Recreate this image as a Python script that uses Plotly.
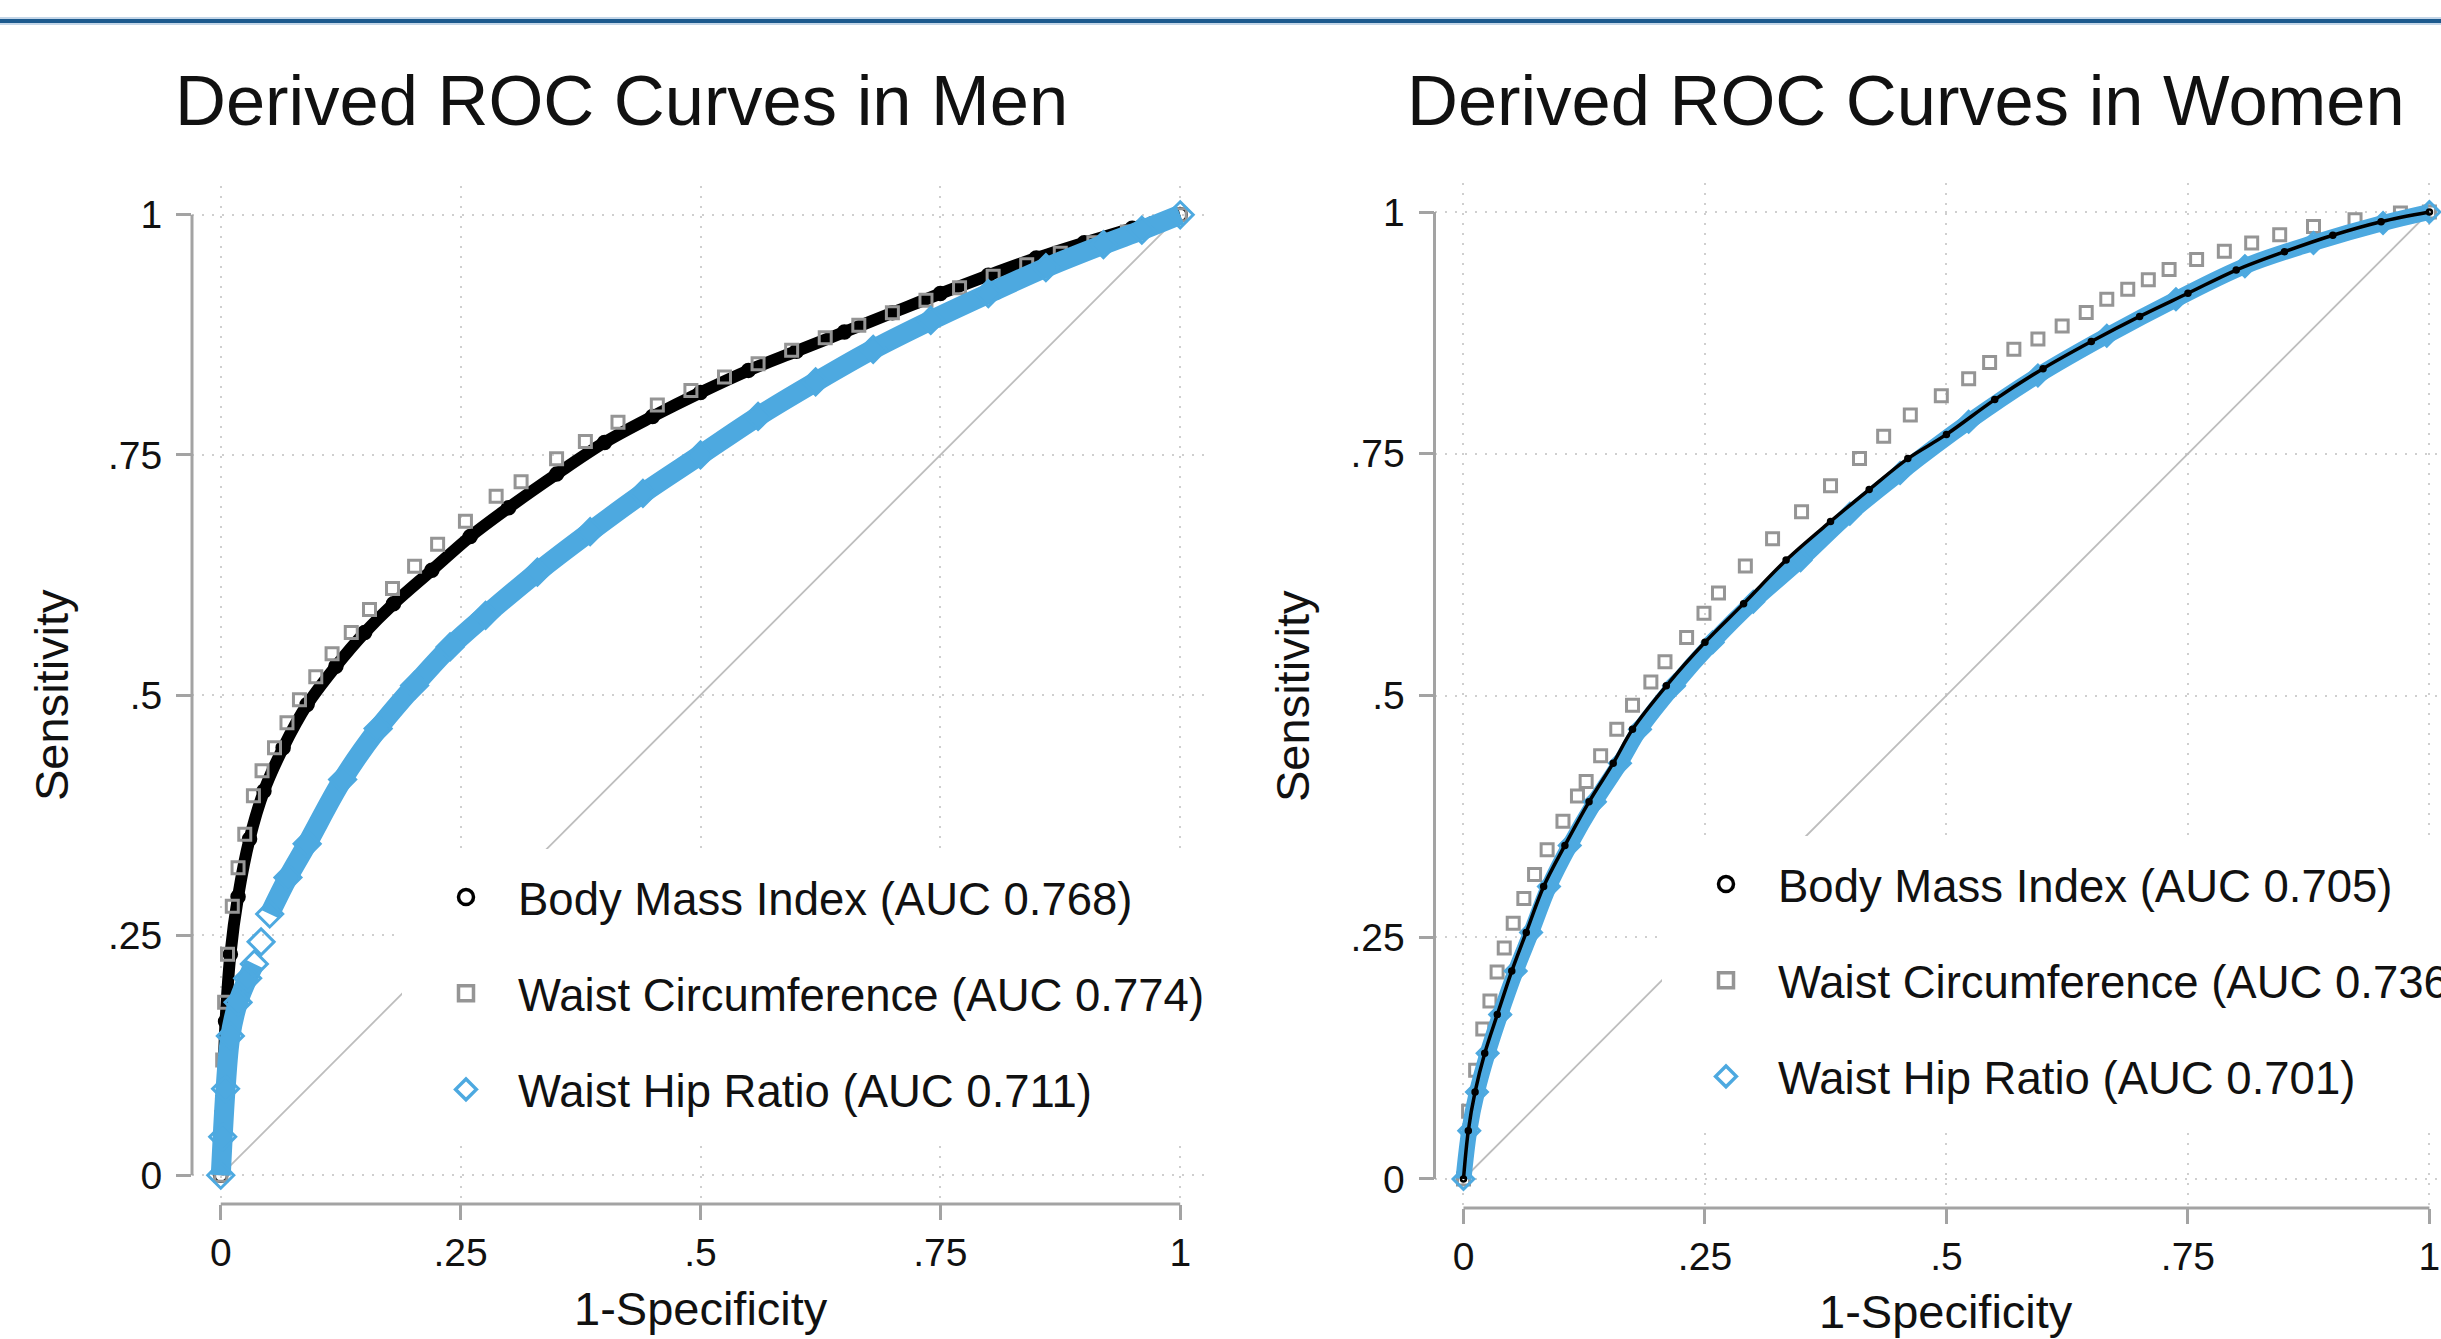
import plotly.graph_objects as go

FONT = "Liberation Sans, Arial, Helvetica, sans-serif"

# ---------------- data ----------------
tick_vals = [0, 0.25, 0.5, 0.75, 1]
tick_text = ["0", ".25", ".5", ".75", "1"]

diag_x = [0, 1]
diag_y = [0, 1]

panel_titles = ["Derived ROC Curves in Men", "Derived ROC Curves in Women"]
x_title = "1-Specificity"
y_title = "Sensitivity"

men_labels = ["Body Mass Index (AUC 0.768)",
              "Waist Circumference (AUC 0.774)",
              "Waist Hip Ratio (AUC 0.711)"]
women_labels = ["Body Mass Index (AUC 0.705)",
                "Waist Circumference (AUC 0.736)",
                "Waist Hip Ratio (AUC 0.701)"]

# Men
men_bmi_x = [0, 0.002, 0.005, 0.010, 0.018, 0.030, 0.045, 0.065, 0.090, 0.120, 0.150, 0.180,
             0.220, 0.260, 0.300, 0.350, 0.400, 0.450, 0.500, 0.550, 0.600, 0.650, 0.700,
             0.750, 0.800, 0.850, 0.900, 0.950, 1.0]
men_bmi_y = [0, 0.08, 0.16, 0.23, 0.29, 0.35, 0.40, 0.445, 0.49, 0.53, 0.565, 0.595,
             0.63, 0.665, 0.695, 0.73, 0.763, 0.79, 0.815, 0.838, 0.858, 0.878, 0.898,
             0.918, 0.937, 0.955, 0.971, 0.986, 1.0]

men_wc_x = [0, 0.001, 0.002, 0.004, 0.007, 0.012, 0.018, 0.025, 0.034, 0.043, 0.056, 0.069,
            0.082, 0.099, 0.116, 0.136, 0.155, 0.179, 0.202, 0.226, 0.255, 0.287, 0.313,
            0.350, 0.380, 0.414, 0.455, 0.490, 0.525, 0.560, 0.595, 0.630, 0.665, 0.700,
            0.735, 0.770, 0.805, 0.840, 0.875, 0.910, 0.945, 0.975, 1.0]
men_wc_y = [0, 0.06, 0.12, 0.18, 0.23, 0.28, 0.32, 0.355, 0.395, 0.421, 0.445, 0.471,
            0.495, 0.519, 0.543, 0.565, 0.589, 0.611, 0.634, 0.657, 0.681, 0.707, 0.722,
            0.746, 0.764, 0.784, 0.802, 0.817, 0.831, 0.845, 0.859, 0.872, 0.885, 0.898,
            0.911, 0.924, 0.936, 0.948, 0.960, 0.971, 0.982, 0.991, 1.0]

men_whr_x = [0, 0.002, 0.005, 0.010, 0.018, 0.028, 0.035, None, 0.042, None,
             0.051, 0.070, 0.090, 0.127, 0.164, 0.202, 0.239, 0.276, 0.330, 0.385, 0.440,
             0.500, 0.560, 0.620, 0.680, 0.740, 0.800, 0.860, 0.920, 0.960, 1.0]
men_whr_y = [0, 0.04, 0.09, 0.145, 0.18, 0.205, 0.22, None, 0.243, None,
             0.272, 0.31, 0.345, 0.412, 0.465, 0.51, 0.55, 0.583, 0.628, 0.67, 0.71,
             0.75, 0.79, 0.826, 0.86, 0.89, 0.918, 0.945, 0.969, 0.984, 1.0]

# Women
women_bmi_x = [0, 0.005, 0.012, 0.022, 0.035, 0.050, 0.065, 0.083, 0.105, 0.130, 0.155, 0.175,
               0.210, 0.250, 0.290, 0.334, 0.380, 0.420, 0.460, 0.500, 0.550, 0.600, 0.650,
               0.700, 0.750, 0.800, 0.850, 0.900, 0.950, 1.0]
women_bmi_y = [0, 0.05, 0.09, 0.13, 0.17, 0.215, 0.255, 0.3025, 0.345, 0.39, 0.43, 0.465,
               0.51, 0.555, 0.595, 0.640, 0.68, 0.713, 0.745, 0.77, 0.806, 0.838, 0.866,
               0.892, 0.916, 0.940, 0.959, 0.976, 0.99, 1.0]

women_wc_x = [0, 0.0053, 0.0126, 0.020, 0.0274, 0.0348, 0.0422, 0.0515, 0.0625, 0.0736, 0.0866,
              0.103, 0.118, 0.127, 0.142, 0.1587, 0.175, 0.194, 0.2086, 0.231, 0.249, 0.264,
              0.2918, 0.32, 0.35, 0.38, 0.41, 0.435, 0.4626, 0.4947, 0.523, 0.5447, 0.5698,
              0.5947, 0.6198, 0.6447, 0.666, 0.6877, 0.709, 0.7305, 0.759, 0.7877, 0.816,
              0.845, 0.880, 0.923, 0.970, 1.0]
women_wc_y = [0, 0.070, 0.1125, 0.155, 0.184, 0.214, 0.239, 0.2645, 0.290, 0.315, 0.3405,
              0.370, 0.396, 0.411, 0.4376, 0.465, 0.490, 0.514, 0.535, 0.560, 0.585, 0.606,
              0.634, 0.662, 0.690, 0.717, 0.745, 0.768, 0.790, 0.810, 0.8275, 0.8445, 0.858,
              0.8686, 0.882, 0.896, 0.9097, 0.920, 0.930, 0.9406, 0.951, 0.9595, 0.968,
              0.9766, 0.985, 0.992, 0.999, 1.0]

women_whr_x = [0, 0.006, 0.014, 0.025, 0.038, 0.054, 0.070, 0.0885, 0.110, 0.136, 0.162,
               0.1827, 0.218, 0.258, 0.300, 0.349, 0.400, 0.452, 0.523, 0.5947, 0.666,
               0.7376, 0.809, 0.880, 0.952, 1.0]
women_whr_y = [0, 0.05, 0.09, 0.13, 0.17, 0.215, 0.255, 0.3025, 0.345, 0.39, 0.43,
               0.465, 0.51, 0.555, 0.597, 0.640, 0.688, 0.730, 0.783, 0.831, 0.872,
               0.9097, 0.944, 0.968, 0.9886, 1.0]

# ---------------- styles ----------------
BLACK = "#000000"
GRAY = "#959595"
BLUE = "#4DA9E0"
AXIS_GRAY = "#a3a3a3"
DIAG_GRAY = "#bdbdbd"

W, H = 2441, 1339

fig = go.Figure()


def diag(xa, ya):
    fig.add_trace(go.Scatter(x=diag_x, y=diag_y, mode="lines", xaxis=xa, yaxis=ya,
                             line=dict(color=DIAG_GRAY, width=1.8), showlegend=False,
                             hoverinfo="skip"))


def legend_entry(leg, label, symbol, color, size, rank):
    # legend key only (no data coordinates)
    fig.add_trace(go.Scatter(x=[None], y=[None], mode="markers", name=label, legend=leg,
                             legendgroup=f"{leg}{rank}", legendrank=rank,
                             marker=dict(symbol=symbol, size=size, color=color,
                                         line=dict(width=3.5, color=color))))


def bmi(x, y, xa, ya, lw, ms):
    fig.add_trace(go.Scatter(x=x, y=y, mode="lines", xaxis=xa, yaxis=ya,
                             line=dict(color=BLACK, width=lw, shape="spline"),
                             showlegend=False, hoverinfo="skip"))
    fig.add_trace(go.Scatter(x=x, y=y, mode="markers", xaxis=xa, yaxis=ya, showlegend=False,
                             marker=dict(symbol="circle-open", size=ms, color=BLACK,
                                         line=dict(width=2.5, color=BLACK))))


def wc(x, y, xa, ya):
    fig.add_trace(go.Scatter(x=x, y=y, mode="markers", xaxis=xa, yaxis=ya, showlegend=False,
                             marker=dict(symbol="square-open", size=12, color=GRAY,
                                         line=dict(width=3, color=GRAY))))


def whr(x, y, xa, ya, lw):
    fig.add_trace(go.Scatter(x=x, y=y, mode="lines", xaxis=xa, yaxis=ya,
                             line=dict(color=BLUE, width=lw, shape="spline"),
                             connectgaps=False, showlegend=False, hoverinfo="skip"))
    fig.add_trace(go.Scatter(x=x, y=y, mode="markers", xaxis=xa, yaxis=ya, showlegend=False,
                             marker=dict(symbol="diamond-open", size=lw, color=BLUE,
                                         line=dict(width=3, color=BLUE))))


# Men panel
diag("x", "y")
bmi(men_bmi_x, men_bmi_y, "x", "y", 12, 13)
wc(men_wc_x, men_wc_y, "x", "y")
whr(men_whr_x, men_whr_y, "x", "y", 20)

# Women panel
diag("x2", "y2")
wc(women_wc_x, women_wc_y, "x2", "y2")
whr(women_whr_x, women_whr_y, "x2", "y2", 16)
bmi(women_bmi_x, women_bmi_y, "x2", "y2", 3.5, 5)

# Legend keys
for leg, labels in (("legend", men_labels), ("legend2", women_labels)):
    legend_entry(leg, labels[0], "circle-open", BLACK, 15, 1)
    legend_entry(leg, labels[1], "square-open", GRAY, 15, 2)
    legend_entry(leg, labels[2], "diamond-open", BLUE, 16, 3)

axis_common = dict(
    tickvals=tick_vals, ticktext=tick_text, ticks="outside", ticklen=15, tickwidth=3,
    tickcolor=AXIS_GRAY, showline=False, zeroline=False, showgrid=True,
    gridcolor="#cfcfcf", gridwidth=2, griddash="2px,8px",
    tickfont=dict(size=39, color="#111111", family=FONT), fixedrange=True,
)


def dx(px):
    return px / W


def dy(px):
    return 1 - px / H


legend_common = dict(xanchor="left", yanchor="top", bgcolor="white",
                     bordercolor="white", borderwidth=12, itemwidth=94, tracegroupgap=34,
                     traceorder="grouped", itemsizing="trace",
                     font=dict(size=45.5, family=FONT, color="#111111"))

fig.update_layout(
    width=W, height=H,
    margin=dict(l=0, r=0, t=0, b=0, autoexpand=False),
    paper_bgcolor="white", plot_bgcolor="white",
    font=dict(family=FONT, color="#111111"),
    xaxis=dict(domain=[dx(192), dx(1209)], range=[-0.03, 1.03], anchor="y",
               ticklabelstandoff=-1, **axis_common),
    yaxis=dict(domain=[dy(1204), dy(186)], range=[-0.03, 1.03], anchor="x",
               ticklabelstandoff=6, **axis_common),
    xaxis2=dict(domain=[dx(1434.5), 1.0], range=[-0.03, 1.012], anchor="y2",
                ticklabelstandoff=-1, **axis_common),
    yaxis2=dict(domain=[dy(1208), dy(183)], range=[-0.03, 1.03], anchor="x2",
                ticklabelstandoff=6, **axis_common),
    legend=dict(x=dx(402), y=dy(849), **legend_common),
    legend2=dict(x=dx(1662), y=dy(836), **legend_common),
)

# Stata-style axis lines spanning only 0..1
for xa, ya in (("x", "y"), ("x2", "y2")):
    fig.add_shape(type="line", xref=f"{xa} domain", yref=ya, x0=0, x1=0, y0=0, y1=1,
                  line=dict(color=AXIS_GRAY, width=3))
    fig.add_shape(type="line", xref=xa, yref=f"{ya} domain", x0=0, x1=1, y0=0, y1=0,
                  line=dict(color=AXIS_GRAY, width=3))

# top rule
fig.add_shape(type="line", xref="paper", yref="paper", x0=0, x1=1, y0=dy(21), y1=dy(21),
              line=dict(color="#c4d6e8", width=8))
fig.add_shape(type="line", xref="paper", yref="paper", x0=0, x1=1, y0=dy(21), y1=dy(21),
              line=dict(color="#1d5a8e", width=4))

# titles and axis titles
ann = [
    dict(text=panel_titles[0], x=dx(621), y=dy(100), size=70.5, angle=0),
    dict(text=panel_titles[1], x=dx(1906), y=dy(100), size=70.5, angle=0),
    dict(text=x_title, x=dx(701), y=dy(1308), size=47, angle=0),
    dict(text=x_title, x=dx(1946), y=dy(1311), size=47, angle=0),
    dict(text=y_title, x=dx(51), y=dy(695), size=47, angle=-90),
    dict(text=y_title, x=dx(1292), y=dy(696), size=47, angle=-90),
]
for a in ann:
    fig.add_annotation(text=a["text"], x=a["x"], y=a["y"], xref="paper", yref="paper",
                       xanchor="center", yanchor="middle", showarrow=False,
                       textangle=a["angle"],
                       font=dict(size=a["size"], family=FONT, color="#111111"))

fig.write_html("out.html", config={"displayModeBar": False},
               post_script="document.body.style.margin='0px';"
                           "document.body.style.overflow='hidden';")
